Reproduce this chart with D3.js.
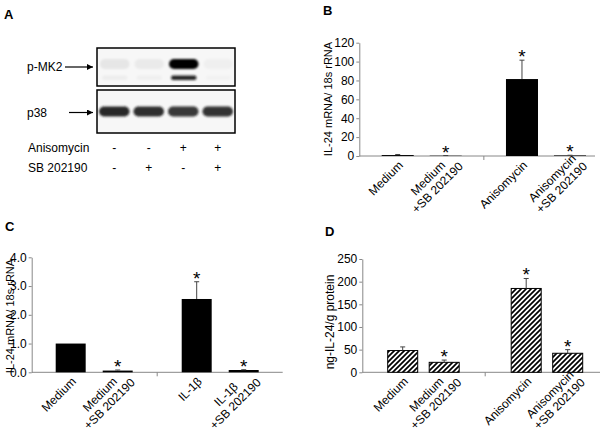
<!DOCTYPE html>
<html>
<head>
<meta charset="utf-8">
<script src="https://cdn.jsdelivr.net/npm/d3@7"></script>
<style>
  body { margin: 0; background: #fff; }
  svg { display: block; font-family: "Liberation Sans", Arial, sans-serif; }
</style>
</head>
<body>
<script>
// ---- panel A (western blot) ----
var lanes = [1, 2, 3, 4];
var anisoSigns = ["-", "-", "+", "+"];
var sbSigns = ["-", "+", "-", "+"];
var mk2Upper = [0.07, 0.05, 1, 0.03];
var mk2Lower = [0.04, 0.03, 0.9, 0.02];
var p38Band = [0.95, 0.92, 0.88, 0.9];

// ---- panel B ----
var bLabels = [["Medium"], ["Medium", "+SB 202190"], ["Anisomycin"], ["Anisomycin", "+SB 202190"]];
var bValues = [1, 0.3, 81.5, 0.6];
var bErrors = [0.6, 0.2, 20, 0.2];
var bStars = [false, true, true, true];
var bTicks = [0, 20, 40, 60, 80, 100, 120];

// ---- panel C ----
var cLabels = [["Medium"], ["Medium", "+SB 202190"], ["IL-1β"], ["IL-1β", "+SB 202190"]];
var cValues = [1, 0.06, 2.55, 0.08];
var cErrors = [0, 0.02, 0.6, 0.01];
var cStars = [false, true, true, true];
var cTicks = [0, 1, 2, 3, 4];

// ---- panel D ----
var dLabels = [["Medium"], ["Medium", "+SB 202190"], ["Anisomycin"], ["Anisomycin", "+SB 202190"]];
var dValues = [48, 22, 185, 42];
var dErrors = [8, 5, 22, 8];
var dStars = [false, true, true, true];
var dTicks = [0, 50, 100, 150, 200, 250];

var svg = d3.select("body").append("svg")
    .attr("width", 611)
    .attr("height", 432);

var defs = svg.append("defs");
defs.append("filter").attr("id", "blur")
    .attr("x", "-30%").attr("y", "-60%").attr("width", "160%").attr("height", "220%")
  .append("feGaussianBlur").attr("stdDeviation", 1.1);

var hatch = defs.append("pattern")
    .attr("id", "hatch")
    .attr("patternUnits", "userSpaceOnUse")
    .attr("width", 5).attr("height", 5);
hatch.append("rect").attr("width", 5).attr("height", 5).attr("fill", "#fff");
hatch.append("path")
    .attr("d", "M-1,1 l2,-2 M0,5 l5,-5 M4,6 l2,-2")
    .attr("stroke", "#000")
    .attr("stroke-width", 1.7);

defs.append("marker")
    .attr("id", "arrow")
    .attr("viewBox", "0 0 10 10")
    .attr("refX", 10).attr("refY", 5)
    .attr("markerWidth", 8).attr("markerHeight", 6)
    .attr("markerUnits", "userSpaceOnUse")
    .attr("orient", "auto")
  .append("path").attr("d", "M0,0 L10,5 L0,10 z").attr("fill", "#000");

// panel letters
[["A", 4, 19], ["B", 323, 15], ["C", 5, 231], ["D", 325, 236]].forEach(function(p) {
  svg.append("text")
      .attr("x", p[1]).attr("y", p[2])
      .attr("font-size", 13)
      .attr("font-weight", "bold")
      .text(p[0]);
});

// ================= panel A =================
var lx = d3.scaleBand().domain(lanes).range([97, 235]);

var boxes = [{y: 48, h: 38}, {y: 90, h: 43}];
svg.selectAll(".blotbox")
  .data(boxes)
  .enter()
  .append("rect")
    .attr("x", 97).attr("y", function(d) { return d.y; })
    .attr("width", 138).attr("height", function(d) { return d.h; })
    .attr("fill", "#f7f7f7");

var bands = svg.append("g").attr("filter", "url(#blur)");

bands.selectAll(".up")
  .data(lanes)
  .enter()
  .append("rect")
    .attr("x", function(d) { return lx(d) + 3; })
    .attr("y", 59)
    .attr("width", lx.bandwidth() - 5)
    .attr("height", 10)
    .attr("rx", 5)
    .attr("fill", "#000")
    .attr("opacity", function(d, i) { return mk2Upper[i]; });

bands.selectAll(".low")
  .data(lanes)
  .enter()
  .append("rect")
    .attr("x", function(d) { return lx(d) + 5; })
    .attr("y", 75.5)
    .attr("width", lx.bandwidth() - 9)
    .attr("height", 4.5)
    .attr("rx", 2.2)
    .attr("fill", "#111")
    .attr("opacity", function(d, i) { return mk2Lower[i]; });

bands.selectAll(".p38")
  .data(lanes)
  .enter()
  .append("rect")
    .attr("x", function(d) { return lx(d) + 2; })
    .attr("y", 106.5)
    .attr("width", lx.bandwidth() - 4)
    .attr("height", 10)
    .attr("rx", 5)
    .attr("fill", "#1e1e1e")
    .attr("opacity", function(d, i) { return p38Band[i]; });

svg.selectAll(".blotborder")
  .data(boxes)
  .enter()
  .append("rect")
    .attr("x", 97).attr("y", function(d) { return d.y; })
    .attr("width", 138).attr("height", function(d) { return d.h; })
    .attr("fill", "none")
    .attr("stroke", "#000")
    .attr("stroke-width", 1.5);

svg.append("text").attr("x", 27).attr("y", 71).attr("font-size", 12).text("p-MK2");
svg.append("text").attr("x", 27).attr("y", 117).attr("font-size", 12).text("p38");
svg.append("line").attr("x1", 65).attr("x2", 93).attr("y1", 67).attr("y2", 67)
    .attr("stroke", "#000").attr("stroke-width", 1.2).attr("marker-end", "url(#arrow)");
svg.append("line").attr("x1", 69).attr("x2", 93).attr("y1", 112.5).attr("y2", 112.5)
    .attr("stroke", "#000").attr("stroke-width", 1.2).attr("marker-end", "url(#arrow)");

svg.append("text").attr("x", 28).attr("y", 152).attr("font-size", 12).text("Anisomycin");
svg.append("text").attr("x", 28).attr("y", 172).attr("font-size", 12).text("SB 202190");

[[anisoSigns, 152], [sbSigns, 172]].forEach(function(row) {
  svg.selectAll(null)
    .data(row[0])
    .enter()
    .append("text")
      .attr("x", function(d, i) { return lx(lanes[i]) + lx.bandwidth() / 2; })
      .attr("y", row[1])
      .attr("text-anchor", "middle")
      .attr("font-size", 12)
      .text(function(d) { return d; });
});

// ================= bar panels =================
function barPanel(o) {
  var g = svg.append("g");
  var y = d3.scaleLinear().domain([0, o.max]).range([o.y0, o.y1]);
  var outer = d3.scaleBand().domain([0, 1]).range(o.groupRange).paddingInner(o.padGroup);
  var inner = d3.scaleBand().domain([0, 1]).range([0, outer.bandwidth()]).paddingInner(o.padBar);
  var xb = function(i) { return outer(Math.floor(i / 2)) + inner(i % 2); };
  var bw = inner.bandwidth();

  // y axis
  var ya = g.append("g")
      .attr("transform", "translate(" + o.axisX0 + ",0)")
      .call(d3.axisLeft(y).tickValues(o.ticks).tickSize(3).tickPadding(2).tickSizeOuter(0));
  ya.attr("font-family", null).attr("font-size", 12);
  ya.select(".domain").attr("stroke", "#888");
  ya.selectAll(".tick line").attr("stroke", "#888");
  ya.selectAll(".tick text").attr("fill", "#000");

  // x axis line + middle tick
  g.append("line")
      .attr("x1", o.axisX0).attr("x2", o.axisX1)
      .attr("y1", o.y0).attr("y2", o.y0)
      .attr("stroke", "#888");
  var mid = (outer(0) + outer.bandwidth() + outer(1)) / 2;
  g.append("line")
      .attr("x1", mid).attr("x2", mid)
      .attr("y1", o.y0).attr("y2", o.y0 + 4)
      .attr("stroke", "#888");

  // bars
  g.selectAll(".bar")
    .data(o.values)
    .enter()
    .append("rect")
      .attr("x", function(d, i) { return xb(i); })
      .attr("y", function(d) { return y(d); })
      .attr("width", bw)
      .attr("height", function(d) { return o.y0 - y(d); })
      .attr("fill", o.hatch ? "url(#hatch)" : "#000")
      .attr("stroke", o.hatch ? "#000" : "none")
      .attr("stroke-width", 1);

  // error bars (plus only)
  o.values.forEach(function(v, i) {
    var e = o.errors[i];
    if (!e) return;
    var cx = xb(i) + bw / 2;
    g.append("line")
        .attr("x1", cx).attr("x2", cx)
        .attr("y1", y(v)).attr("y2", y(v + e))
        .attr("stroke", "#444").attr("stroke-width", 1);
    g.append("line")
        .attr("x1", cx - 2.5).attr("x2", cx + 2.5)
        .attr("y1", y(v + e)).attr("y2", y(v + e))
        .attr("stroke", "#444").attr("stroke-width", 1);
  });

  // significance stars
  o.values.forEach(function(v, i) {
    if (!o.stars[i]) return;
    g.append("text")
        .attr("x", xb(i) + bw / 2)
        .attr("y", y(v + o.errors[i]) + 3)
        .attr("text-anchor", "middle")
        .attr("font-size", 19)
        .text("*");
  });

  // rotated category labels
  o.labels.forEach(function(lines, i) {
    var cx = xb(i) + bw / 2;
    var t = g.append("g")
        .attr("transform", "translate(" + cx + "," + o.y0 + ") rotate(-45)")
        .attr("font-size", 12);
    if (lines.length === 1) {
      t.append("text").attr("x", -2.8).attr("y", 11.3)
          .attr("text-anchor", "end").text(lines[0]);
    } else {
      var texts = lines.map(function(s, k) {
        return t.append("text").attr("y", k === 0 ? 7.2 : 20.5)
            .attr("text-anchor", "middle").text(s);
      });
      var w = d3.max(texts, function(s) { return s.node().getComputedTextLength(); });
      texts.forEach(function(s) { s.attr("x", 5 - w / 2); });
    }
  });

  // y title
  svg.append("text")
      .attr("transform", "translate(" + o.titleX + "," + o.titleY + ") rotate(-90)")
      .attr("text-anchor", "middle")
      .attr("dy", "0.35em")
      .attr("font-size", o.titleSize)
      .text(o.title);
}

barPanel({
  values: bValues, errors: bErrors, stars: bStars, labels: bLabels, ticks: bTicks,
  max: 120, y0: 156, y1: 42.7, axisX0: 359.3, axisX1: 595,
  groupRange: [381.7, 586], padGroup: 0.356, padBar: 0.333,
  hatch: false, title: "IL-24 mRNA/ 18s rRNA", titleX: 328, titleY: 99, titleSize: 11
});

barPanel({
  values: cValues, errors: cErrors, stars: cStars, labels: cLabels, ticks: cTicks,
  max: 4, y0: 372.3, y1: 257.3, axisX0: 31.7, axisX1: 282.7,
  groupRange: [55.7, 258.7], padGroup: 0.389, padBar: 0.362,
  hatch: false, title: "IL-24 mRNA/ 18s rRNA", titleX: 10, titleY: 316, titleSize: 11
});

barPanel({
  values: dValues, errors: dErrors, stars: dStars, labels: dLabels, ticks: dTicks,
  max: 250, y0: 372.3, y1: 259, axisX0: 362.3, axisX1: 600,
  groupRange: [387.7, 582.7], padGroup: 0.421, padBar: 0.277,
  hatch: true, title: "ng-IL-24/g protein", titleX: 330, titleY: 322, titleSize: 12
});
</script>
</body>
</html>
